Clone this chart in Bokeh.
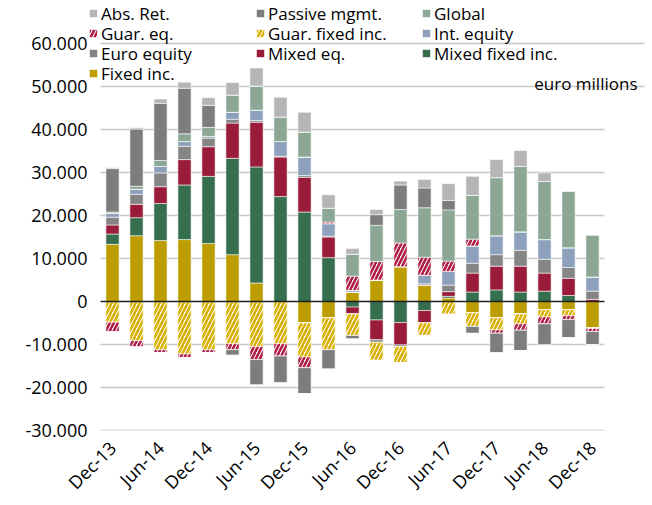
import math
from bokeh.plotting import figure
from bokeh.models import (ColumnDataSource, Range1d, FixedTicker, Legend,
                          LegendItem, Label)
from bokeh.transform import stack
from bokeh.embed import file_html
from bokeh.resources import INLINE

quarters = ["Dec-13", "Mar-14", "Jun-14", "Sep-14", "Dec-14", "Mar-15", "Jun-15",
            "Sep-15", "Dec-15", "Mar-16", "Jun-16", "Sep-16", "Dec-16", "Mar-17",
            "Jun-17", "Sep-17", "Dec-17", "Mar-18", "Jun-18", "Sep-18", "Dec-18"]

# euro millions
fixed_inc   = [13300, 15300, 14200, 14400, 13500, 10900, 4300, 0, -5000, -3800, 2200,
               5000, 8100, 3800, 800, -2600, -3800, -2900, -1900, -1900, -6100]
mixed_fixed = [2400, 4200, 8600, 12700, 15600, 22400, 27000, 24400, 20800, 10200, -1300,
               -4300, -4900, -2100, 400, 2200, 2700, 2200, 2400, 1400, 0]
mixed_eq    = [2100, 3100, 3900, 5900, 6900, 8200, 10400, 9200, 8100, 4800, -1600,
               -4600, -5200, -2900, 1100, 4400, 5500, 6000, 4200, 4000, 500]
euro_eq     = [1800, 2300, 3200, 3100, 2000, 900, 400, 200, 400, 200, 0,
               -600, -400, 300, 1500, 2300, 2700, 3700, 3200, 2500, 1900]
int_eq      = [900, 1200, 1500, 1100, 400, 1600, 2400, 3400, 4300, 2900, 400,
               0, 0, 2000, 3200, 4000, 4400, 4300, 4600, 4600, 3300]
guar_fixed  = [-4800, -9100, -11200, -12200, -11200, -9800, -10500, -9800, -7900, -7400, -5000,
               -4200, -3800, -2900, -3000, -3200, -2800, -2300, -1700, -1400, -200]
guar_eq     = [-2300, -1500, -700, -900, -700, -1400, -3000, -2900, -2500, 400, 3300,
               4300, 5500, 4200, 2400, 1600, -800, -1500, -1600, -900, -700]
global_     = [300, 700, 1400, 1800, 2100, 4000, 5600, 5700, 5800, 3200, 5100,
               8400, 7800, 11500, 11900, 10200, 13500, 15200, 13500, 13200, 9800]
passive     = [10100, 13300, 13300, 10600, 5100, -1300, -5900, -6200, -6000, -4500, -800,
               2500, 5700, 4600, 2200, -1600, -4500, -4700, -4900, -4200, -3000]
abs_ret     = [200, 300, 1000, 1400, 1800, 2900, 4200, 4600, 4600, 3100, 1300,
               1200, 900, 2000, 3900, 4400, 4200, 3700, 2000, 0, 0]

yticks = [-30000, -20000, -10000, 0, 10000, 20000, 30000, 40000, 50000, 60000]

series = [
    ("fi", "Fixed inc.", fixed_inc, "#bd9d00", None),
    ("mf", "Mixed fixed inc.", mixed_fixed, "#366f4e", None),
    ("me", "Mixed eq.", mixed_eq, "#9a1c3b", None),
    ("ee", "Euro equity", euro_eq, "#858585", None),
    ("ie", "Int. equity", int_eq, "#8da1bd", None),
    ("gf", "Guar. fixed inc.", guar_fixed, "#dcb000", "/"),
    ("ge", "Guar. eq.", guar_eq, "#b01e46", "/"),
    ("gl", "Global", global_, "#8ca894", None),
    ("pm", "Passive mgmt.", passive, "#7d7d7d", None),
    ("ar", "Abs. Ret.", abs_ret, "#b5b5b5", None),
]

n = len(quarters)
data = {"x": list(range(n)), "q": quarters}
for key, _, vals, _, _ in series:
    data["p_" + key] = [max(v, 0) for v in vals]
    data["n_" + key] = [min(v, 0) for v in vals]
src = ColumnDataSource(data)

FONT = "Open Sans"
FL, FR, FT, FB = 80, 648, 0, 430          # frame edges in pixels
W, H = 652, 505
px_per_bar = 24.0
x0 = -0.5 - (100 - FL) / px_per_bar
x1 = (n - 0.5) + (FR - 604) / px_per_bar
x_long = (n - 0.5) + (644 - 604) / px_per_bar

p = figure(width=W, height=H, output_backend="svg", toolbar_location=None,
           x_range=Range1d(x0, x1), y_range=Range1d(-30000, 70000),
           min_border_left=FL, min_border_right=W - FR, min_border_top=FT,
           min_border_bottom=H - FB)
p.outline_line_color = None
p.background_fill_color = "white"
p.xgrid.grid_line_color = None
p.ygrid.grid_line_color = None

# horizontal gridlines (the two top ones run on under the note at right)
grid_y = [t for t in yticks if t != 0]
grid_x1 = [x_long if t >= 50000 else n - 0.5 for t in grid_y]
p.segment(x0=[-0.5] * len(grid_y), x1=grid_x1, y0=grid_y, y1=grid_y,
          line_color="#c8c8c8", line_width=1.5, level="underlay")

renderers = {}
pos_keys, neg_keys = [], []
for key, label, vals, color, hatch in series:
    kw = dict(line_color="white", line_width=0.8, line_alpha=0.7)
    if hatch:
        kw.update(fill_color="white", hatch_pattern=hatch, hatch_color=color,
                  hatch_scale=8, hatch_weight=2.6)
    else:
        kw.update(fill_color=color)
    r = p.vbar(x="x", width=0.55, bottom=stack(*pos_keys),
               top=stack(*(pos_keys + ["p_" + key])), source=src, **kw)
    p.vbar(x="x", width=0.55, bottom=stack(*neg_keys),
           top=stack(*(neg_keys + ["n_" + key])), source=src, **kw)
    pos_keys.append("p_" + key)
    neg_keys.append("n_" + key)
    renderers[label] = r

# zero line
p.segment(x0=[-0.5], x1=[n - 0.5], y0=[0], y1=[0], line_color="#222222", line_width=1.5)

p.yaxis.ticker = FixedTicker(ticks=yticks)
p.yaxis.major_label_overrides = {v: f"{v:,}".replace(",", ".") for v in yticks}
p.yaxis.axis_line_color = None
p.yaxis.major_tick_line_color = None
p.yaxis.minor_tick_line_color = None
p.yaxis.major_tick_out = 0
p.yaxis.major_tick_in = 0
p.yaxis.minor_tick_out = 0
p.yaxis.major_label_text_font = FONT
p.yaxis.major_label_text_font_size = "18px"
p.yaxis.major_label_text_color = "black"
p.yaxis.major_label_standoff = -7

xt = list(range(0, n, 2))
p.xaxis.ticker = FixedTicker(ticks=xt)
p.xaxis.major_label_overrides = {i: quarters[i] for i in xt}
p.xaxis.major_label_orientation = math.pi / 4
p.xaxis.axis_line_color = None
p.xaxis.major_tick_line_color = None
p.xaxis.minor_tick_line_color = None
p.xaxis.major_tick_out = 0
p.xaxis.major_tick_in = 0
p.xaxis.minor_tick_out = 0
p.xaxis.major_label_text_font = FONT
p.xaxis.major_label_text_font_size = "18px"
p.xaxis.major_label_text_color = "black"
p.xaxis.major_label_standoff = 14

# legend: one small legend per entry, placed on a 3-column grid
legend_grid = [
    ("Abs. Ret.", 88, 13), ("Passive mgmt.", 255, 13), ("Global", 421, 13),
    ("Guar. eq.", 88, 33), ("Guar. fixed inc.", 255, 33), ("Int. equity", 421, 33),
    ("Euro equity", 88, 53), ("Mixed eq.", 255, 53), ("Mixed fixed inc.", 421, 53),
    ("Fixed inc.", 88, 73),
]
item_h = 24
for label, gx, cy in legend_grid:
    leg = Legend(items=[LegendItem(label=label, renderers=[renderers[label]])],
                 location=(gx - FL, (FB - FT) - cy - item_h / 2), orientation="vertical",
                 glyph_width=10, glyph_height=10, label_standoff=3, spacing=0,
                 padding=0, margin=0, label_height=item_h,
                 border_line_color=None, background_fill_alpha=0,
                 label_text_font=FONT, label_text_font_size="17px",
                 label_text_color="black")
    p.add_layout(leg, "center")

p.add_layout(Label(x=637 - FL, y=FB - 86 + 3, x_units="screen", y_units="screen",
                   text="euro millions", text_align="right", text_baseline="alphabetic",
                   text_font=FONT, text_font_size="17px", text_color="black"))

open("out.html", "w").write(file_html(p, INLINE))
